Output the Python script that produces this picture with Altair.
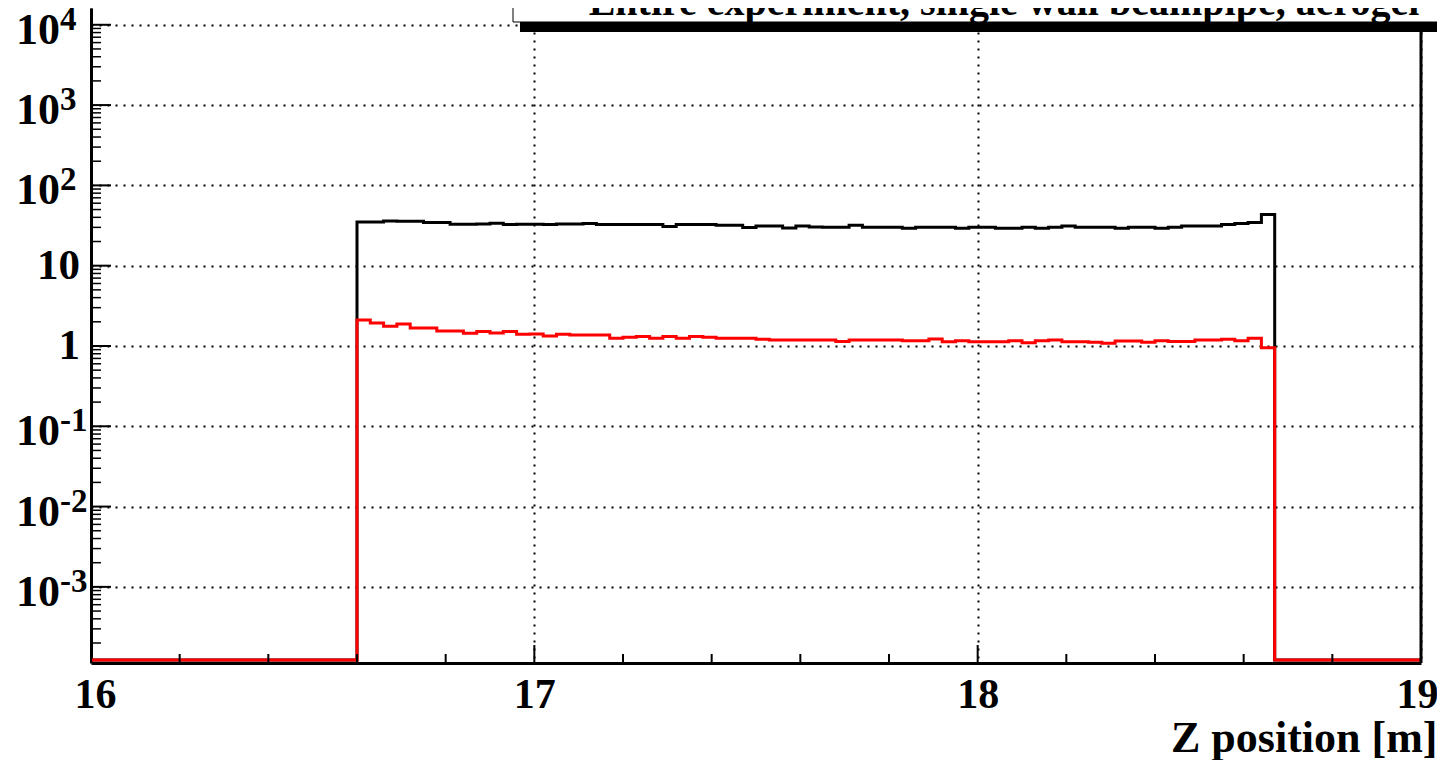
import altair as alt
import pandas as pd

# ---------------- data ----------------
BIN_START = 16.0
BIN_WIDTH = 0.03
N_BINS = 100
FIRST_FILLED = 20

black_counts = [
    35.0, 35.0, 36.0, 35.7, 35.7, 34.4, 34.4, 32.8, 32.8, 33.1, 33.7, 32.5, 32.8, 32.8, 32.5, 33.1, 33.1, 33.4,
    32.5, 32.5, 32.5, 32.5, 32.5, 30.7, 32.5, 32.5, 32.5, 31.9, 31.9, 29.8, 31.3, 31.3, 29.5, 31.3, 30.4,
    30.1, 30.1, 31.9, 30.1, 30.1, 30.1, 29.2, 30.1, 30.1, 30.1, 29.2, 30.1, 30.1, 29.2, 29.2, 30.1, 29.2, 30.1,
    31.3, 30.1, 30.1, 30.1, 29.2, 30.1, 30.1, 29.2, 30.1, 31.3, 31.3, 31.3, 32.5, 33.4, 34.4, 43.3,
]
red_counts = [
    2.10, 1.93, 1.76, 1.88, 1.67, 1.67, 1.54, 1.54, 1.44, 1.51, 1.45, 1.51, 1.40, 1.41, 1.33, 1.40, 1.37, 1.37,
    1.37, 1.25, 1.28, 1.31, 1.25, 1.31, 1.25, 1.31, 1.28, 1.25, 1.25, 1.25, 1.21, 1.19, 1.19, 1.19, 1.19,
    1.19, 1.14, 1.19, 1.19, 1.19, 1.19, 1.16, 1.16, 1.22, 1.13, 1.16, 1.13, 1.13, 1.13, 1.16, 1.10, 1.16, 1.19,
    1.13, 1.13, 1.11, 1.08, 1.15, 1.15, 1.11, 1.16, 1.14, 1.14, 1.19, 1.19, 1.21, 1.16, 1.25, 0.95,
]

x_domain = [16, 19]
x_major = [16, 17, 18, 19]
y_min = 10 ** -3.948
y_max = 10 ** 4.209
zero_level = y_min * 1.09   # empty bins drawn on the frame bottom, as ROOT does

ylab_values = [1e4, 1e3, 1e2, 10, 1, 0.1, 0.01, 0.001]
ylab_base = ["10", "10", "10", "10", "1", "10", "10", "10"]
ylab_exp = ["4", "3", "2", "", "", "-1", "-2", "-3"]

title_text = "Entire experiment, single wall beampipe, aerogel"
x_title = "Z position [m]"

# ---------------- layout ----------------
W, H = 1330, 655
FONT = "Liberation Serif"


def hist_frame(counts, name):
    vals = [0.0] * FIRST_FILLED + counts + [0.0] * (N_BINS - FIRST_FILLED - len(counts))
    vals = [v if v > 0 else zero_level for v in vals]
    edges = [BIN_START + BIN_WIDTH * i for i in range(N_BINS + 1)]
    rows = [{"z": edges[i], "v": vals[i], "s": name} for i in range(N_BINS)]
    rows.append({"z": edges[-1], "v": vals[-1], "s": name})
    return pd.DataFrame(rows)


df_black = hist_frame(black_counts, "all")
df_red = hist_frame(red_counts, "sel")

x_scale = alt.Scale(domain=x_domain, nice=False, zero=False)
y_scale = alt.Scale(type="log", domain=[y_min, y_max], nice=False)

x_axis = alt.Axis(
    values=x_major, format="d", title=x_title,
    grid=True, gridDash=[2, 6], gridColor="black", gridWidth=2, gridOpacity=1,
    ticks=False, tickSize=0, domainColor="black", domainWidth=3,
    labelFont=FONT, labelFontSize=42, labelFontWeight="bold", labelColor="black",
    labelPadding=11, labelFlush=True, labelFlushOffset=17,
    titleFont=FONT, titleFontSize=44, titleFontWeight="bold", titleColor="black",
    titleAlign="right", titleAnchor="end", titleX=W + 16, titleY=88, titleBaseline="alphabetic",
)
y_axis = alt.Axis(
    values=ylab_values, labels=False, ticks=False, tickSize=0, title="",
    grid=True, gridDash=[2, 6], gridColor="black", gridWidth=2, gridOpacity=1,
    domainColor="black", domainWidth=3,
)


def X(field):
    return alt.X(field, scale=x_scale, axis=x_axis)


def Y(field):
    return alt.Y(field, scale=y_scale, axis=y_axis)


black = alt.Chart(df_black).mark_line(
    interpolate="step-after", color="black", strokeWidth=3, clip=True
).encode(x=X("z:Q"), y=Y("v:Q"))
red = alt.Chart(df_red).mark_line(
    interpolate="step-after", color="#ff0000", strokeWidth=3, clip=True
).encode(x=X("z:Q"), y=Y("v:Q"))

# inside ticks (ROOT style)
x_minor = [round(16 + 0.2 * i, 2) for i in range(16) if i % 5 != 0]
xt_major = alt.Chart(pd.DataFrame({"z": x_major})).mark_rule(color="black", strokeWidth=2).encode(
    x=X("z:Q"), y=alt.value(H), y2=alt.value(H - 18))
xt_minor = alt.Chart(pd.DataFrame({"z": x_minor})).mark_rule(color="black", strokeWidth=2).encode(
    x=X("z:Q"), y=alt.value(H), y2=alt.value(H - 9))

y_minor = [m * 10.0 ** d for d in range(-4, 5) for m in range(2, 10) if y_min < m * 10.0 ** d < y_max]
yt_major = alt.Chart(pd.DataFrame({"v": ylab_values})).mark_rule(color="black", strokeWidth=2).encode(
    y=Y("v:Q"), x=alt.value(0), x2=alt.value(20))
yt_minor = alt.Chart(pd.DataFrame({"v": y_minor})).mark_rule(color="black", strokeWidth=1.5).encode(
    y=Y("v:Q"), x=alt.value(0), x2=alt.value(10))

one = pd.DataFrame({"a": [0]})
right_frame = alt.Chart(one).mark_rule(color="black", strokeWidth=3).encode(
    x=alt.value(W), y=alt.value(0), y2=alt.value(H))

# title pave (cut by the top of the picture)
shadow = alt.Chart(one).mark_rect(color="black", clip=False).encode(
    x=alt.value(429), x2=alt.value(1400), y=alt.value(14), y2=alt.value(24))
pave = alt.Chart(one).mark_rect(fill="white", stroke="black", strokeWidth=1, clip=False).encode(
    x=alt.value(422), x2=alt.value(1400), y=alt.value(-30), y2=alt.value(14))
title = alt.Chart(pd.DataFrame({"t": [title_text]})).mark_text(
    font=FONT, fontSize=40, fontWeight="bold", color="black", align="center", baseline="alphabetic"
).encode(x=alt.value(913), y=alt.value(7), text="t:N")

# y labels with superscripts
df_lab = pd.DataFrame({"v": ylab_values, "base": ylab_base, "exp": ylab_exp})
plain_lab = alt.Chart(df_lab).transform_filter("datum.exp == ''").mark_text(
    font=FONT, fontSize=43, fontWeight="bold", color="black", align="right", baseline="middle"
).encode(y=Y("v:Q"), x=alt.value(-11), text="base:N")
pow_base = alt.Chart(df_lab).transform_filter("datum.exp != ''").mark_text(
    font=FONT, fontSize=44, fontWeight="bold", color="black", align="right", baseline="middle", dy=6
).encode(y=Y("v:Q"), x=alt.value(-31), text="base:N")
pow_exp = alt.Chart(df_lab).transform_filter("datum.exp != ''").mark_text(
    font=FONT, fontSize=33, fontWeight="bold", color="black", align="left", baseline="middle", dy=-5
).encode(y=Y("v:Q"), x=alt.value(-31), text="exp:N")

chart = alt.layer(
    black, red, xt_major, xt_minor, yt_major, yt_minor, right_frame,
    shadow, pave, title, plain_lab, pow_base, pow_exp,
).properties(
    width=W, height=H,
    padding={"left": 83, "top": 0, "right": 16, "bottom": 97},
    autosize=alt.AutoSizeParams(type="none"),
    background="white",
).configure_view(strokeWidth=0)

chart.save("out.html", embed_options={"renderer": "svg", "actions": False})
